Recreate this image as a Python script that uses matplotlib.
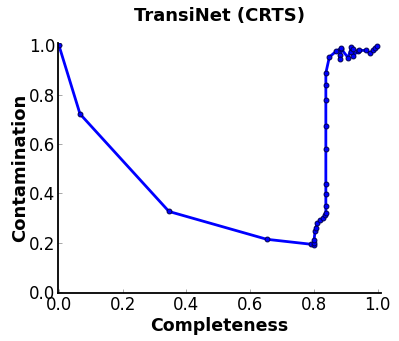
import matplotlib
matplotlib.use('Agg')
import matplotlib.pyplot as plt

# completeness / contamination pairs
completeness = [
    0.0, 0.066, 0.345, 0.652, 0.79, 0.80, 0.80, 0.80, 0.803, 0.805,
    0.81, 0.82, 0.828, 0.833, 0.837, 0.837, 0.837, 0.837, 0.837, 0.837,
    0.837, 0.837, 0.837, 0.848, 0.870, 0.883, 0.881, 0.881, 0.883, 0.907,
    0.917, 0.917, 0.923, 0.923, 0.938, 0.940, 0.962, 0.975, 0.985, 0.990,
    0.998,
]
contamination = [
    1.0, 0.722, 0.326, 0.213, 0.193, 0.19, 0.20, 0.209, 0.245, 0.26,
    0.278, 0.29, 0.30, 0.31, 0.321, 0.347, 0.396, 0.439, 0.578, 0.673,
    0.777, 0.838, 0.888, 0.953, 0.977, 0.987, 0.96, 0.946, 0.99, 0.95,
    0.993, 0.975, 0.985, 0.959, 0.977, 0.98, 0.98, 0.969, 0.98, 0.99,
    0.996,
]

x_ticks = [0.0, 0.2, 0.4, 0.6, 0.8, 1.0]
y_ticks = [0.0, 0.2, 0.4, 0.6, 0.8, 1.0]

fig = plt.figure(figsize=(3.99, 3.41), dpi=100)
ax = fig.add_axes([58 / 399, 48 / 341, 323 / 399, 250 / 341])

ax.plot(completeness, contamination, color='#0000ff', linewidth=2,
        marker='o', markersize=3.5, markerfacecolor='#0000ff',
        markeredgecolor='#000050', markeredgewidth=0.7)

ax.set_xlim(-0.003, 1.01)
ax.set_ylim(-0.005, 1.01)
ax.set_xticks(x_ticks)
ax.set_yticks(y_ticks)
ax.set_xticklabels([f'{t:.1f}' for t in x_ticks])
ax.set_yticklabels([f'{t:.1f}' for t in y_ticks])

ax.spines['top'].set_visible(False)
ax.spines['right'].set_visible(False)
ax.spines['left'].set_linewidth(1.3)
ax.spines['bottom'].set_linewidth(1.3)
ax.tick_params(direction='in', length=3, width=0.6, labelsize=12,
               top=False, right=False, pad=2, color='#999999')

ax.set_xlabel('Completeness', fontsize=12.5, fontweight='bold', labelpad=2)
ax.set_ylabel('Contamination', fontsize=13, fontweight='bold', labelpad=0)
ax.set_title('TransiNet (CRTS)', fontsize=13, fontweight='bold', pad=16)

fig.savefig('out.png', dpi=100)
